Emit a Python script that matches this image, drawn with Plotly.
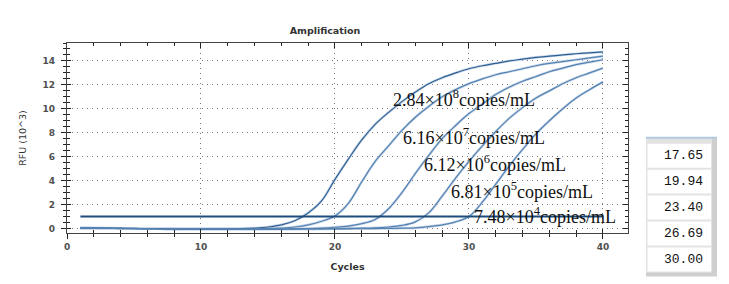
import plotly.graph_objects as go

# ---------------- data ----------------
cycles = list(range(1, 41))

rfu_284e8 = [0.05, 0.04, 0.03, 0.02, 0.00, -0.02, -0.03, -0.04, -0.05, -0.05,
             -0.05, -0.04, -0.02, 0.03, 0.12, 0.30, 0.65, 1.30, 2.30, 4.10,
             5.80, 7.40, 8.70, 9.70, 10.60, 11.40, 12.10, 12.60, 13.00, 13.35,
             13.60, 13.80, 14.00, 14.15, 14.30, 14.40, 14.50, 14.60, 14.68, 14.75]
rfu_616e7 = [0.04, 0.03, 0.02, 0.01, 0.00, -0.02, -0.03, -0.04, -0.05, -0.05,
             -0.05, -0.05, -0.05, -0.04, -0.02, 0.03, 0.12, 0.30, 0.60, 1.05,
             2.10, 3.90, 5.60, 6.90, 8.20, 9.30, 10.20, 11.00, 11.60, 12.10,
             12.50, 12.85, 13.10, 13.35, 13.60, 13.80, 13.95, 14.10, 14.25, 14.40]
rfu_612e6 = [0.03, 0.02, 0.01, 0.00, -0.01, -0.02, -0.03, -0.04, -0.04, -0.05,
             -0.05, -0.05, -0.05, -0.05, -0.05, -0.04, -0.03, -0.01, 0.03, 0.10,
             0.20, 0.40, 0.75, 1.65, 3.00, 4.60, 6.10, 7.50, 8.60, 9.60,
             10.40, 11.20, 11.80, 12.30, 12.70, 13.10, 13.40, 13.70, 13.90, 14.10]
rfu_681e5 = [0.02, 0.01, 0.00, -0.01, -0.02, -0.03, -0.03, -0.04, -0.04, -0.05,
             -0.05, -0.05, -0.05, -0.05, -0.05, -0.05, -0.04, -0.04, -0.03, -0.02,
             0.00, 0.02, 0.05, 0.12, 0.25, 0.55, 1.30, 2.70, 4.20, 5.60,
             6.90, 8.10, 9.20, 10.10, 10.90, 11.50, 12.10, 12.60, 13.00, 13.40]
rfu_748e4 = [0.02, 0.01, 0.00, -0.01, -0.02, -0.02, -0.03, -0.03, -0.04, -0.04,
             -0.05, -0.05, -0.05, -0.05, -0.05, -0.05, -0.05, -0.04, -0.04, -0.03,
             -0.03, -0.02, -0.01, 0.00, 0.02, 0.05, 0.15, 0.30, 0.55, 1.00,
             2.20, 3.70, 5.20, 6.60, 7.90, 9.00, 10.00, 10.90, 11.60, 12.25]

series = [rfu_284e8, rfu_616e7, rfu_612e6, rfu_681e5, rfu_748e4]
series_labels = [
    "2.84×10<sup>8</sup>copies/mL",
    "6.16×10<sup>7</sup>copies/mL",
    "6.12×10<sup>6</sup>copies/mL",
    "6.81×10<sup>5</sup>copies/mL",
    "7.48×10<sup>4</sup>copies/mL",
]
ct_values = [17.65, 19.94, 23.40, 26.69, 30.00]
threshold_x = [1, 40]
threshold_y = [1.0, 1.0]

x_ticks = [0, 10, 20, 30, 40]
y_ticks = [0, 2, 4, 6, 8, 10, 12, 14]

# ---------------- figure geometry ----------------
W, H = 729, 284
L, R, T, B = 67, 628, 43, 233.5
XR = [0, 41.87]
YR = [-0.38, 15.5]


def px_to_paper_x(px):
    return (px - L) / (R - L)


def py_to_paper_y(py):
    return (B - py) / (B - T)


fig = go.Figure()

# curves (light halo + line)
for s in series:
    fig.add_trace(go.Scatter(x=cycles, y=s, mode="lines", line=dict(color="#c9d8ea", width=2.6, shape="spline"),
                             hoverinfo="skip", showlegend=False))
for i, s in enumerate(series):
    col = "#2f5f92" if i == 0 else "#5582b1"
    fig.add_trace(go.Scatter(x=cycles, y=s, mode="lines", line=dict(color=col, width=1.2, shape="spline"),
                             showlegend=False))

# threshold line (on overlay subplot so that axes 2 render)
fig.add_trace(go.Scatter(x=threshold_x, y=threshold_y, mode="lines", xaxis="x2", yaxis="y2",
                         line=dict(color="#1d4c7c", width=2), showlegend=False))
fig.add_trace(go.Scatter(x=[], y=[], xaxis="x3", yaxis="y3", showlegend=False))

tickfont = dict(family="DejaVu Sans", size=9, color="#505050", weight="bold")
axis_common = dict(linecolor="#444", linewidth=1.3, tickcolor="#222", ticklen=5, tickwidth=1)
grid_common = dict(showgrid=True, gridcolor="#777", griddash="1px,4px", gridwidth=1)

fig.update_layout(
    width=W, height=H,
    margin=dict(l=L, r=W - R, t=T, b=H - B),
    paper_bgcolor="white", plot_bgcolor="white",
    showlegend=False,
    title=dict(text="<b>Amplification</b>", x=325 / W, xref="container", xanchor="center",
               y=1 - 31 / H, yref="container", yanchor="middle",
               font=dict(family="DejaVu Sans", size=9.5, color="#333")),
    xaxis=dict(range=XR, tickvals=x_ticks, ticks="outside", showline=True, mirror=True,
               zeroline=False, tickfont=tickfont,
               minor=dict(dtick=2, tick0=0, ticks="outside", ticklen=3, tickcolor="#222", showgrid=False),
               title=dict(text="<b>Cycles</b>", font=dict(family="DejaVu Sans", size=9.5, color="#333"), standoff=12),
               **grid_common, **axis_common),
    yaxis=dict(range=YR, tickvals=y_ticks, ticks="outside", showline=True, mirror=True,
               zeroline=False, tickfont=tickfont, ticklabelstandoff=4,
               minor=dict(dtick=0.5, tick0=0, ticks="outside", ticklen=3, tickcolor="#222", showgrid=False),
               title=dict(text="RFU (10^3)", font=dict(family="DejaVu Sans", size=9.5, color="#333"), standoff=14),
               **grid_common, **axis_common),
    xaxis2=dict(range=XR, overlaying="x", side="top", anchor="y2", tickvals=x_ticks, ticks="inside",
                showticklabels=False, showgrid=False, zeroline=False, showline=False,
                minor=dict(dtick=2, tick0=0, ticks="inside", ticklen=3, tickcolor="#222"),
                ticklen=5, tickcolor="#222"),
    yaxis2=dict(range=YR, overlaying="y", side="right", anchor="x2", tickvals=y_ticks, ticks="inside",
                showticklabels=False, showgrid=False, zeroline=False, showline=False,
                minor=dict(dtick=0.5, tick0=0, ticks="inside", ticklen=3, tickcolor="#222"),
                ticklen=5, tickcolor="#222"),
    xaxis3=dict(range=XR, overlaying="x", side="bottom", anchor="y3", tickvals=x_ticks, ticks="inside",
                showticklabels=False, showgrid=False, zeroline=False, showline=False,
                minor=dict(dtick=2, tick0=0, ticks="inside", ticklen=3, tickcolor="#222"),
                ticklen=4, tickcolor="#222"),
    yaxis3=dict(range=YR, overlaying="y", side="left", anchor="x3", tickvals=y_ticks, ticks="inside",
                showticklabels=False, showgrid=False, zeroline=False, showline=False,
                minor=dict(dtick=0.5, tick0=0, ticks="inside", ticklen=3, tickcolor="#222"),
                ticklen=4, tickcolor="#222"),
)

# concentration labels
label_pos = [(24.15, 10.85), (24.95, 7.7), (26.5, 5.45), (28.5, 3.2), (30.2, 1.05)]
for (lx, ly), txt in zip(label_pos, series_labels):
    fig.add_annotation(x=lx, y=ly, xref="x", yref="y", text=txt, showarrow=False,
                       xanchor="left", yanchor="middle",
                       font=dict(family="Liberation Serif", size=18, color="#111"))

# Ct table on the right
tx0, tx1 = 646, 717
ty0, ty1 = 138, 277
fig.add_shape(type="rect", xref="paper", yref="paper",
              x0=px_to_paper_x(tx0), x1=px_to_paper_x(tx1), y0=py_to_paper_y(ty1), y1=py_to_paper_y(ty0),
              fillcolor="#cfcfcf", line=dict(width=0), layer="above")
fig.add_shape(type="rect", xref="paper", yref="paper",
              x0=px_to_paper_x(tx0), x1=px_to_paper_x(712), y0=py_to_paper_y(273), y1=py_to_paper_y(ty0),
              fillcolor="#e3e3e3", line=dict(width=0), layer="above")
fig.add_shape(type="line", xref="paper", yref="paper",
              x0=px_to_paper_x(tx0), x1=px_to_paper_x(tx1), y0=py_to_paper_y(138), y1=py_to_paper_y(138),
              line=dict(color="#b4c8e0", width=2), layer="above")
row_top, row_h = 143, 26
for i, v in enumerate(ct_values):
    top = row_top + i * row_h
    fig.add_shape(type="rect", xref="paper", yref="paper",
                  x0=px_to_paper_x(647.5), x1=px_to_paper_x(711), y0=py_to_paper_y(top + row_h - 1),
                  y1=py_to_paper_y(top + 1), fillcolor="white", line=dict(width=0), layer="above")
    fig.add_annotation(x=px_to_paper_x(705), y=py_to_paper_y(top + row_h / 2), xref="paper", yref="paper",
                       text=f"{v:.2f}", showarrow=False, xanchor="right", yanchor="middle",
                       font=dict(family="Liberation Mono", size=13, color="#111"))

fig.write_html("out.html")
